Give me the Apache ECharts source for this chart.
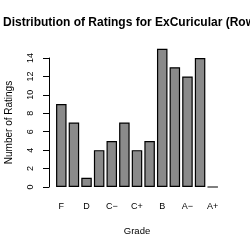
<!DOCTYPE html>
<html>
<head>
<meta charset="utf-8">
<script src="https://cdn.jsdelivr.net/npm/echarts@6/dist/echarts.min.js"></script>
<style>
  html, body { margin: 0; padding: 0; background: #fff; }
  #chart { width: 250px; height: 250px; }
</style>
</head>
<body>
<div id="chart"></div>
<script>
// grades in order, R barplot style
const grades = ['F', 'D\u2212', 'D', 'D+', 'C\u2212', 'C', 'C+', 'B\u2212', 'B', 'B+', 'A\u2212', 'A', 'A+'];
const ratingCounts = [9, 7, 1, 4, 5, 7, 4, 5, 15, 13, 12, 14, 0];
const yTicks = [0, 2, 4, 6, 8, 10, 12, 14];

const myChart = echarts.init(document.getElementById('chart'));
const font = 'Liberation Sans, Arial, sans-serif';

const option = {
  backgroundColor: '#fff',
  animation: false,
  title: {
    text: 'Distribution of Ratings for ExCuricular (Rowing)',
    left: 3,
    top: 17,
    padding: 0,
    textStyle: {
      fontFamily: font,
      fontSize: 12,
      fontWeight: 'bold',
      color: '#000',
    },
  },
  grid: {
    left: 55,
    top: 58,
    width: 164,
    height: 129,
    containLabel: false,
    outerBoundsMode: 'none',
  },
  xAxis: {
    type: 'category',
    data: grades,
    name: 'Grade',
    nameLocation: 'middle',
    nameGap: 39,
    nameTextStyle: { fontFamily: font, fontSize: 9.5, color: '#000' },
    axisLine: { show: false },
    axisTick: { show: false },
    axisLabel: {
      interval: 1,
      margin: 15,
      fontFamily: font,
      fontSize: 9,
      color: '#000',
    },
  },
  yAxis: {
    type: 'value',
    min: 0,
    max: 14,
    interval: 2,
    offset: 6,
    name: 'Number of Ratings',
    nameLocation: 'middle',
    nameRotate: 90,
    nameGap: 35,
    nameTextStyle: { fontFamily: font, fontSize: 10, color: '#000' },
    axisLine: { show: true, lineStyle: { color: '#000', width: 1 } },
    axisTick: { show: true, length: 6, lineStyle: { color: '#000' } },
    axisLabel: {
      rotate: 90,
      margin: 14,
      fontFamily: font,
      fontSize: 9,
      color: '#000',
      formatter(val) {
        return yTicks.indexOf(val) > -1 ? String(val) : '';
      },
    },
    splitLine: { show: false },
  },
  series: [{
    type: 'bar',
    data: ratingCounts,
    barWidth: 10.5,
    clip: false,
    itemStyle: {
      color: '#8a8a8a',
      borderColor: '#000',
      borderWidth: 1.2,
    },
  }],
};

myChart.setOption(option);
</script>
</body>
</html>
